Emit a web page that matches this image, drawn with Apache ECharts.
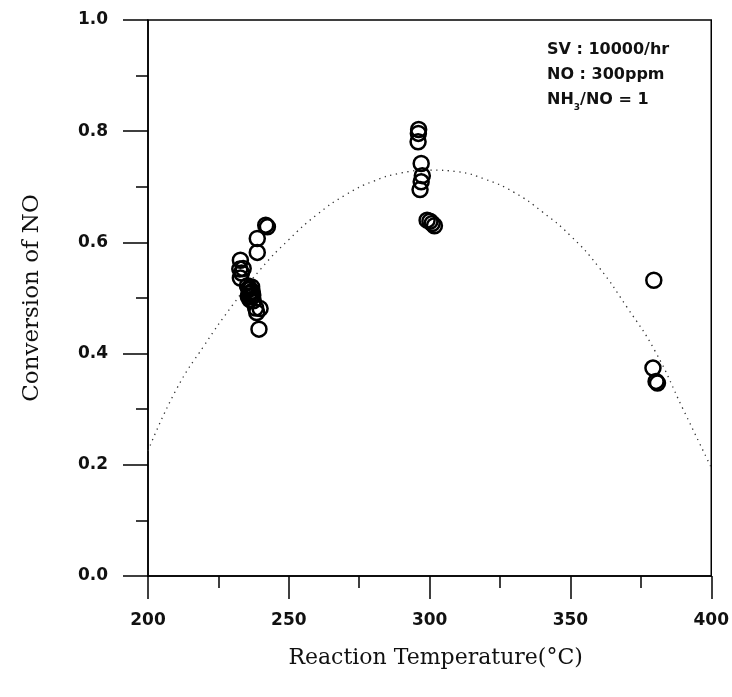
<!DOCTYPE html>
<html>
<head>
<meta charset="utf-8">
<script src="https://cdn.jsdelivr.net/npm/echarts@6/dist/echarts.min.js"></script>
<style>
html,body{margin:0;padding:0;background:#fff;}
#chart{width:732px;height:697px;}
</style>
</head>
<body>
<div id="chart"></div>
<script>
// Measured data points (Reaction Temperature °C, Conversion of NO)
const pointTemps = [
  232.8, 232.6, 233.2, 232.8, 233.8,
  238.8, 238.8, 241.8, 242.4,
  235.3, 235.8, 236.4, 235.6, 236.8, 237.2, 236.2, 237.4, 236.0, 236.6, 235.9, 237.0,
  238.2, 239.8, 238.6, 239.4,
  296.1, 296.0, 295.9, 297.0, 297.4, 297.0, 296.6, 299.1, 300.1, 300.9, 301.7,
  379.6, 379.3, 380.4, 380.9
];
const pointConv = [
  0.568, 0.552, 0.545, 0.536, 0.553,
  0.607, 0.582, 0.631, 0.628,
  0.522, 0.515, 0.510, 0.503, 0.520, 0.505, 0.497, 0.495, 0.508, 0.502, 0.518, 0.512,
  0.482, 0.481, 0.474, 0.444,
  0.803, 0.796, 0.781, 0.742, 0.720, 0.709, 0.695, 0.640, 0.638, 0.634, 0.630,
  0.532, 0.374, 0.350, 0.347
];
// Fitted dotted curve
const curveTemps = [200, 210, 220, 230, 240, 250, 260, 270, 280, 290, 300, 310, 320, 330, 340, 350, 360, 370, 380, 390, 400];
const curveConv  = [0.225, 0.335, 0.415, 0.487, 0.552, 0.605, 0.650, 0.685, 0.710, 0.725, 0.730, 0.727, 0.713, 0.690, 0.655, 0.612, 0.556, 0.484, 0.405, 0.300, 0.195];
// Axis ticks
const xTicks = [200, 250, 300, 350, 400];
const yTicks = [0.0, 0.2, 0.4, 0.6, 0.8, 1.0];
// Annotation lines
const noteLines = ['SV : 10000/hr', 'NO : 300ppm'];

const chart = echarts.init(document.getElementById('chart'));
const tickFont = {fontFamily: 'DejaVu Sans', fontWeight: 'bold', fontSize: 17, color: '#111'};

chart.setOption({
  animation: false,
  backgroundColor: '#fff',
  grid: {left: 148, right: 20, top: 20, bottom: 121, show: true, borderColor: '#000', borderWidth: 1.5, backgroundColor: 'transparent'},
  xAxis: {
    type: 'value', min: xTicks[0], max: xTicks[xTicks.length - 1], interval: 50,
    axisLine: {show: true, lineStyle: {color: '#000', width: 1.5}},
    axisTick: {show: true, inside: false, length: 23, lineStyle: {color: '#000', width: 1.5}},
    minorTick: {show: true, splitNumber: 2, length: 12, lineStyle: {color: '#000', width: 1.5}},
    splitLine: {show: false},
    axisLabel: Object.assign({margin: 36}, tickFont),
    name: 'Reaction Temperature(°C)', nameLocation: 'middle', nameGap: 71,
    nameTextStyle: {fontFamily: 'DejaVu Serif', fontSize: 22, color: '#111', padding: [0, 0, 0, 12]}
  },
  yAxis: {
    type: 'value', min: yTicks[0], max: yTicks[yTicks.length - 1], interval: 0.2,
    axisLine: {show: true, lineStyle: {color: '#000', width: 1.5}},
    axisTick: {show: true, inside: false, length: 25, lineStyle: {color: '#000', width: 1.5}},
    minorTick: {show: true, splitNumber: 2, length: 12, lineStyle: {color: '#000', width: 1.5}},
    splitLine: {show: false},
    axisLabel: Object.assign({margin: 40, formatter: v => v.toFixed(1)}, tickFont),
    name: 'Conversion of NO', nameLocation: 'middle', nameGap: 104,
    nameTextStyle: {fontFamily: 'DejaVu Serif', fontSize: 23, color: '#111'}
  },
  series: [
    {
      type: 'line', smooth: true, showSymbol: false, symbol: 'none',
      data: curveTemps.map((t, i) => [t, curveConv[i]]),
      lineStyle: {color: '#333', width: 1.3, type: [1.3, 4.5]},
      z: 1
    },
    {
      type: 'scatter', symbol: 'circle', symbolSize: 15,
      data: pointTemps.map((t, i) => [t, pointConv[i]]),
      itemStyle: {color: 'rgba(255,255,255,0)', borderColor: '#000', borderWidth: 2.5, opacity: 1},
      z: 2
    }
  ],
  graphic: [
    {
      type: 'text', left: 547, top: 37, z: 10,
      style: {
        text: noteLines[0] + '\n' + noteLines[1] + '\n' + 'NH{sub|3}/NO = 1',
        fontFamily: 'DejaVu Sans', fontWeight: 'bold', fontSize: 16, lineHeight: 25, fill: '#111',
        rich: {sub: {fontFamily: 'DejaVu Sans', fontWeight: 'bold', fontSize: 9, verticalAlign: 'bottom', padding: [8, 0, 0, 0], fill: '#111'}}
      }
    }
  ]
});
</script>
</body>
</html>
